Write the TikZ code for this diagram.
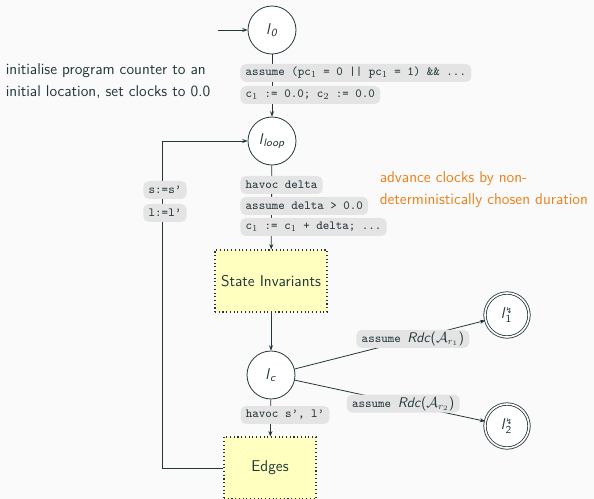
\documentclass[tikz,border=0pt]{standalone}
\usepackage{fontspec}
\newfontfamily\symfont{DejaVu Sans}
\usetikzlibrary{arrows.meta}

\definecolor{fg}{RGB}{35,55,59}
\definecolor{bg}{RGB}{250,250,250}
\definecolor{tagfill}{RGB}{228,228,228}
\definecolor{mOrange}{RGB}{235,129,27}
\definecolor{blockfill}{RGB}{255,255,192}

\newcommand{\loc}[1]{\textit{l}\textsubscript{\textit{#1}}}
\newcommand{\errloc}[1]{\textit{l}${}^{\hbox{\symfont\fontsize{6}{6}\selectfont ↯}}_{\hbox{\fontsize{8}{8}\selectfont #1}}$}
\newcommand{\rdc}[1]{{\sffamily\fontsize{10.5}{11}\selectfont\textit{Rdc}($\mathcal{A}_{r_{#1}}$)}}

\tikzset{
  loc/.style={circle, draw=fg, fill=white, minimum size=36pt, inner sep=0pt},
  errstate/.style={loc, double=white, double distance=1.2pt, minimum size=33pt},
  tag/.style={fill=tagfill, rounded corners=4pt, text=fg,
    font=\ttfamily\fontsize{9.3}{11}\selectfont,
    inner xsep=4pt, inner ysep=1.5pt, minimum height=13.5pt},
  blk/.style={draw=fg, dotted, line width=0.8pt, fill=blockfill, minimum width=84pt, minimum height=46.5pt},
  note/.style={align=left, anchor=west},
  arr/.style={-{Stealth[length=4pt,width=3pt]}}
}

\begin{document}
\begin{tikzpicture}[x=0.75pt, y=-0.75pt, color=fg, line width=0.6pt,
  font=\sffamily\fontsize{11.7}{16.5}\selectfont]
  \useasboundingbox[fill=bg] (0,0) rectangle (594,499);

  % locations
  \node[loc] (l0) at (272,30) {\loc{0}};
  \node[loc] (lloop) at (272,141) {\loc{loop}};
  \node[blk] (inv) at (271,281) {State Invariants};
  \node[loc] (lc) at (271,375) {\loc{c}};
  \node[blk, minimum width=69pt] (edges) at (270,468) {Edges};
  \node[errstate] (err1) at (507,315) {\errloc{1}};
  \node[errstate] (err2) at (507,426) {\errloc{2}};

  % entry
  \coordinate (start) at (218,30);
  \draw[arr] (start) -- (l0);

  % initialisation
  \draw[arr] (l0) -- (lloop);
  \node[tag, anchor=west] (init1) at (240,73) {assume (pc$_1$ = 0 || pc$_1$ = 1) \&\& ...};
  \node[tag, anchor=west] (init2) at (240,95) {c$_1$ := 0.0; c$_2$ := 0.0};
  \node[note] (initnote) at (1,81) {initialise program counter to an\\initial location, set clocks to 0.0};

  % time step
  \draw[arr] (lloop) -- (inv);
  \node[tag, anchor=west] (delta1) at (240,185) {havoc delta};
  \node[tag, anchor=west] (delta2) at (240,206) {assume delta > 0.0};
  \node[tag, anchor=west] (delta3) at (240,227) {c$_1$ := c$_1$ + delta; ...};
  \node[note, text=mOrange] (deltanote) at (375,190) {advance clocks by non-\\deterministically chosen duration};

  % invariants and error checks
  \draw[arr] (inv) -- (lc);
  \draw[arr] (lc) -- node[tag, pos=0.62] (rdc1) {assume \rdc{1}} (err1);
  \draw[arr] (lc) -- node[tag, pos=0.57] (rdc2) {assume \rdc{2}} (err2);

  % discrete step and loop back
  \draw[arr] (lc) -- (edges);
  \node[tag] (havoc) at (285,415) {havoc s’, l’};
  \coordinate (back) at (162,468);
  \draw[arr] (edges.west) -- (back) |- (lloop.west);
  \node[tag] (upd1) at (165,190) {s:=s’};
  \node[tag] (upd2) at (165,213) {l:=l’};
\end{tikzpicture}
\end{document}
